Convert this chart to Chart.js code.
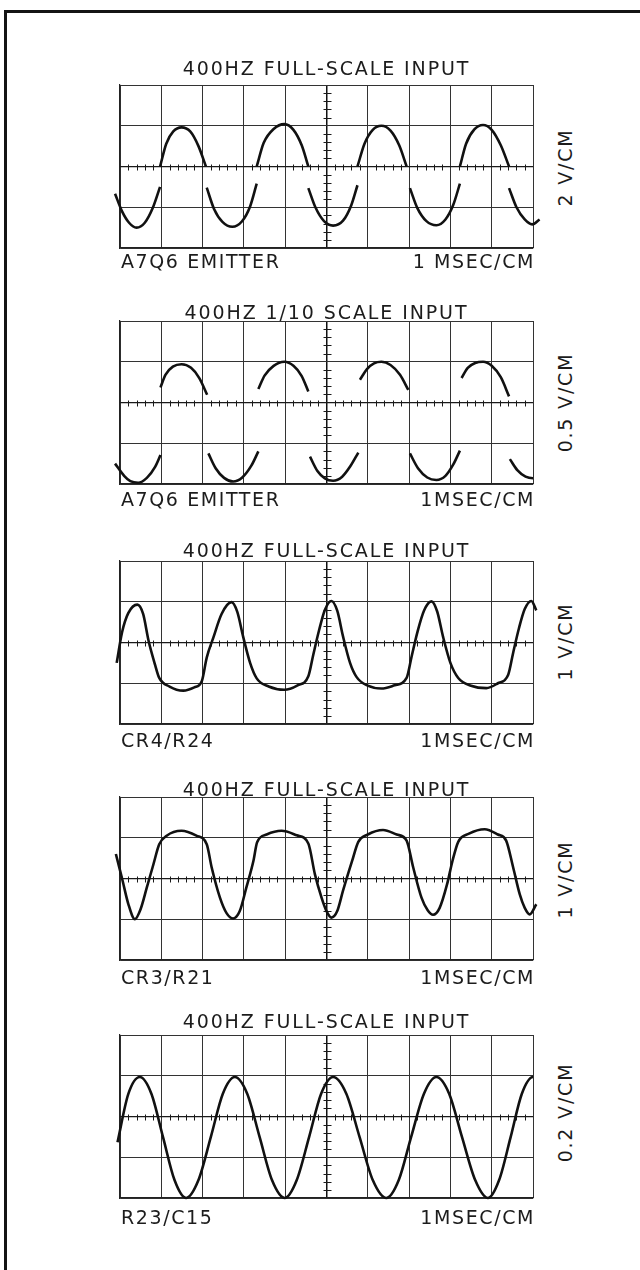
<!DOCTYPE html>
<html>
<head>
<meta charset="utf-8">
<title>400 Hz input waveforms</title>
<script src="https://cdn.jsdelivr.net/npm/chart.js@4.4.1/dist/chart.umd.min.js"></script>
<script>
// Trace readings: time in ms (1 ms/cm), deflection in cm (graticule divisions).
// null = beam blanked between segments.

// A7Q6 emitter, 400 Hz full-scale input, 2 V/cm
const emitterFullT = [
  -0.12, 0.05, 0.22, 0.40, 0.60, 0.80, 0.97, 0.97,
  0.97, 1.12, 1.29, 1.49, 1.70, 1.90, 2.08, 2.09,
  2.10, 2.28, 2.48, 2.72, 2.95, 3.15, 3.31, 3.31,
  3.31, 3.48, 3.72, 3.98, 4.20, 4.40, 4.56, 4.56,
  4.56, 4.74, 4.94, 5.16, 5.40, 5.60, 5.75, 5.75,
  5.75, 5.92, 6.12, 6.33, 6.55, 6.76, 6.94, 6.98,
  7.02, 7.20, 7.42, 7.66, 7.88, 8.07, 8.23, 8.23,
  8.23, 8.38, 8.58, 8.79, 9.00, 9.22, 9.42, 9.42,
  9.42, 9.60, 9.80, 9.98, 10.16
];
const emitterFullY = [
  -0.67, -1.10, -1.38, -1.50, -1.38, -1.00, -0.50, null,
  0.00, 0.56, 0.86, 0.96, 0.86, 0.50, 0.00, null,
  -0.52, -1.05, -1.36, -1.48, -1.35, -0.98, -0.42, null,
  0.00, 0.58, 0.92, 1.04, 0.90, 0.52, 0.00, null,
  -0.53, -1.02, -1.34, -1.45, -1.33, -0.95, -0.46, null,
  0.00, 0.56, 0.90, 1.00, 0.88, 0.52, 0.00, null,
  -0.53, -1.02, -1.34, -1.44, -1.30, -0.94, -0.42, null,
  0.00, 0.56, 0.91, 1.02, 0.90, 0.52, 0.00, null,
  -0.53, -1.00, -1.30, -1.42, -1.30
];

// A7Q6 emitter, 400 Hz 1/10 scale input, 0.5 V/cm
const emitterTenthT = [
  -0.12, 0.10, 0.25, 0.44, 0.65, 0.85, 0.98, 0.98,
  0.98, 1.10, 1.28, 1.49, 1.72, 1.92, 2.11, 2.12,
  2.14, 2.32, 2.52, 2.74, 2.96, 3.18, 3.35, 3.35,
  3.35, 3.50, 3.72, 3.98, 4.20, 4.40, 4.56, 4.58,
  4.60, 4.78, 4.96, 5.16, 5.38, 5.58, 5.77, 5.79,
  5.81, 5.98, 6.15, 6.33, 6.55, 6.78, 6.98, 7.00,
  7.02, 7.22, 7.44, 7.66, 7.88, 8.07, 8.23, 8.25,
  8.27, 8.42, 8.60, 8.79, 9.00, 9.22, 9.42, 9.43,
  9.44, 9.62, 9.82, 10.00, 10.16
];
const emitterTenthY = [
  -1.50, -1.80, -1.93, -1.97, -1.85, -1.58, -1.29, null,
  0.37, 0.68, 0.88, 0.94, 0.85, 0.60, 0.19, null,
  -1.25, -1.62, -1.85, -1.94, -1.84, -1.55, -1.20, null,
  0.33, 0.66, 0.90, 1.00, 0.90, 0.65, 0.27, null,
  -1.33, -1.68, -1.86, -1.92, -1.82, -1.56, -1.23, null,
  0.56, 0.82, 0.96, 1.00, 0.92, 0.68, 0.31, null,
  -1.25, -1.62, -1.84, -1.90, -1.80, -1.52, -1.18, null,
  0.60, 0.85, 0.97, 1.00, 0.90, 0.62, 0.15, null,
  -1.39, -1.66, -1.82, -1.86, -1.82
];

// CR4/R24, 1 V/cm
const cr4T = [
  -0.08, 0.05, 0.20, 0.42, 0.56, 0.69, 0.85, 0.95, 1.20, 1.53, 1.80, 1.98,
  2.10, 2.26, 2.46, 2.70, 2.84, 2.98, 3.15, 3.31, 3.60, 3.98, 4.30, 4.56,
  4.68, 4.82, 4.96, 5.12, 5.26, 5.40, 5.57, 5.73, 6.00, 6.33, 6.65, 6.94,
  7.06, 7.20, 7.36, 7.54, 7.68, 7.82, 8.00, 8.19, 8.50, 8.87, 9.15, 9.40,
  9.52, 9.66, 9.80, 9.96, 10.08
];
const cr4Y = [
  -0.50, 0.25, 0.72, 0.93, 0.70, 0.05, -0.55, -0.87, -1.08, -1.18, -1.10, -0.95,
  -0.37, 0.12, 0.70, 0.99, 0.75, 0.15, -0.50, -0.88, -1.08, -1.16, -1.05, -0.83,
  -0.30, 0.30, 0.80, 1.02, 0.78, 0.15, -0.50, -0.85, -1.06, -1.13, -1.05, -0.87,
  -0.35, 0.25, 0.78, 1.01, 0.76, 0.15, -0.50, -0.87, -1.06, -1.12, -1.00, -0.79,
  -0.25, 0.35, 0.82, 1.02, 0.79
];

// CR3/R21, 1 V/cm
const cr3T = [
  -0.10, 0.05, 0.20, 0.36, 0.50, 0.65, 0.81, 0.95, 1.13, 1.49, 1.85, 2.10,
  2.22, 2.42, 2.58, 2.74, 2.90, 3.06, 3.23, 3.32, 3.55, 3.91, 4.28, 4.56,
  4.72, 4.88, 5.00, 5.12, 5.26, 5.40, 5.62, 5.77, 6.00, 6.37, 6.70, 6.94,
  7.10, 7.30, 7.45, 7.58, 7.74, 7.92, 8.05, 8.19, 8.45, 8.83, 9.15, 9.35,
  9.52, 9.68, 9.80, 9.92, 10.08
];
const cr3Y = [
  0.60, 0.00, -0.62, -1.00, -0.75, -0.22, 0.35, 0.84, 1.05, 1.17, 1.05, 0.84,
  0.27, -0.47, -0.85, -0.98, -0.80, -0.22, 0.43, 0.89, 1.08, 1.17, 1.06, 0.86,
  0.10, -0.47, -0.80, -0.96, -0.80, -0.30, 0.43, 0.90, 1.08, 1.19, 1.08, 0.93,
  0.27, -0.47, -0.78, -0.89, -0.72, -0.14, 0.43, 0.90, 1.10, 1.21, 1.08, 0.93,
  0.27, -0.39, -0.72, -0.88, -0.63
];

// R23/C15, 0.2 V/cm
const r23T = [
  -0.06, 0.20, 0.48, 0.76, 1.04, 1.32, 1.60, 1.90, 2.20, 2.49, 2.78, 3.08,
  3.38, 3.68, 3.99, 4.28, 4.58, 4.87, 5.16, 5.48, 5.80, 6.12, 6.45, 6.75,
  7.05, 7.36, 7.66, 7.97, 8.28, 8.60, 8.91, 9.18, 9.46, 9.73, 10.00, 10.12
];
const r23Y = [
  -0.63, 0.55, 0.97, 0.56, -0.50, -1.56, -2.00, -1.56, -0.50, 0.56, 0.97, 0.56,
  -0.50, -1.56, -2.00, -1.56, -0.50, 0.56, 0.97, 0.56, -0.50, -1.56, -2.00, -1.56,
  -0.50, 0.56, 0.97, 0.56, -0.50, -1.56, -2.00, -1.56, -0.50, 0.56, 0.97, 0.94
];

const titles = ['400HZ FULL-SCALE INPUT', '400HZ 1/10 SCALE INPUT', '400HZ FULL-SCALE INPUT',
  '400HZ FULL-SCALE INPUT', '400HZ FULL-SCALE INPUT'];
const probeLabels = ['A7Q6 EMITTER', 'A7Q6 EMITTER', 'CR4/R24', 'CR3/R21', 'R23/C15'];
const sweepLabels = ['1 MSEC/CM', '1MSEC/CM', '1MSEC/CM', '1MSEC/CM', '1MSEC/CM'];
const sensLabels = ['2 V/CM', '0.5 V/CM', '1 V/CM', '1 V/CM', '0.2 V/CM'];
</script>
<style>
  html, body { margin: 0; padding: 0; background: #fff; }
  body { width: 640px; height: 1270px; position: relative; overflow: hidden; }
  #frame {
    position: absolute; left: 4px; top: 10px; width: 700px; height: 1300px;
    border-left: 3px solid #141414; border-top: 3px solid #141414;
  }
  canvas { position: absolute; }
  .txt {
    position: absolute; font-family: "DejaVu Sans", sans-serif; font-size: 19px;
    line-height: 19px; color: #1c1c1c; white-space: nowrap;
  }
  .title { left: 120px; width: 413px; text-align: center; letter-spacing: 1.9px; }
  .probe { left: 121px; letter-spacing: 1.6px; }
  .sweep { right: 105px; text-align: right; letter-spacing: 1.6px; }
  .sens { left: 465px; width: 200px; text-align: center; letter-spacing: 1.8px; transform: rotate(-90deg); }
</style>
</head>
<body>
<div id="frame"></div>
<script>
  const GRID_LEFT = 120;
  const GRID_W = 413;
  const GRID_H = 163;
  const PAD = 14;
  const panelTops = [85, 321, 561, 797, 1035];
  const titleTops = [59, 303, 541, 780, 1012];
  const labelTops = [252, 490, 731, 968, 1208];
  const sensCenters = [167, 402, 641, 879, 1112];

  const traces = [
    [emitterFullT, emitterFullY],
    [emitterTenthT, emitterTenthY],
    [cr4T, cr4Y],
    [cr3T, cr3Y],
    [r23T, r23Y]
  ];

  // small cross ticks (0.2 cm) along the centre graticule lines
  const centerTicks = {
    id: 'centerTicks',
    beforeDatasetsDraw(chart) {
      const { ctx, scales: { x, y } } = chart;
      const cx = Math.round(x.getPixelForValue(5)) + 0.5;
      const cy = Math.round(y.getPixelForValue(0)) + 0.5;
      ctx.save();
      ctx.strokeStyle = '#1a1a1a';
      ctx.lineWidth = 1;
      ctx.beginPath();
      for (let i = 1; i < 50; i++) {
        if (i % 5 === 0) continue;
        const px = Math.round(x.getPixelForValue(i / 5)) + 0.5;
        ctx.moveTo(px, cy - 3);
        ctx.lineTo(px, cy + 3);
      }
      for (let i = -9; i < 10; i++) {
        if (i % 5 === 0) continue;
        const py = Math.round(y.getPixelForValue(i / 5)) + 0.5;
        ctx.moveTo(cx - 4, py);
        ctx.lineTo(cx + 4, py);
      }
      ctx.stroke();
      ctx.restore();
    }
  };

  function addText(cls, text, top) {
    const d = document.createElement('div');
    d.className = 'txt ' + cls;
    d.textContent = text;
    d.style.top = top + 'px';
    document.body.appendChild(d);
  }

  traces.forEach(([ts, ys], i) => {
    const canvas = document.createElement('canvas');
    canvas.width = GRID_W + PAD * 2;
    canvas.height = GRID_H + PAD * 2;
    canvas.style.left = (GRID_LEFT - PAD) + 'px';
    canvas.style.top = (panelTops[i] - PAD) + 'px';
    document.body.appendChild(canvas);

    new Chart(canvas, {
      type: 'line',
      data: {
        datasets: [{
          data: ts.map((t, k) => ({ x: t, y: ys[k] })),
          borderColor: '#111',
          borderWidth: 2.6,
          pointRadius: 0,
          cubicInterpolationMode: 'monotone',
          capBezierPoints: false,
          spanGaps: false,
          clip: false
        }]
      },
      options: {
        responsive: false,
        animation: false,
        events: [],
        layout: { padding: PAD },
        plugins: {
          legend: { display: false },
          tooltip: { enabled: false }
        },
        scales: {
          x: {
            type: 'linear',
            min: 0,
            max: 10,
            ticks: { display: false, stepSize: 1 },
            grid: {
              drawTicks: false,
              color: c => c.tick && c.tick.value === 5 ? '#111' : '#333',
              lineWidth: c => c.tick && c.tick.value === 5 ? 1.5 : 1
            },
            border: { display: true, color: '#222', width: 1.2 }
          },
          y: {
            type: 'linear',
            min: -2,
            max: 2,
            ticks: { display: false, stepSize: 1 },
            grid: {
              drawTicks: false,
              color: c => c.tick && c.tick.value === 0 ? '#1a1a1a' : '#333',
              lineWidth: c => c.tick && c.tick.value === 0 ? 1.2 : 1
            },
            border: { display: true, color: '#222', width: 1.2 }
          }
        }
      },
      plugins: [centerTicks]
    });

    addText('title', titles[i], titleTops[i]);
    addText('probe', probeLabels[i], labelTops[i]);
    addText('sweep', sweepLabels[i], labelTops[i]);
    addText('sens', sensLabels[i], sensCenters[i] - 9.5);
  });
</script>
</body>
</html>
